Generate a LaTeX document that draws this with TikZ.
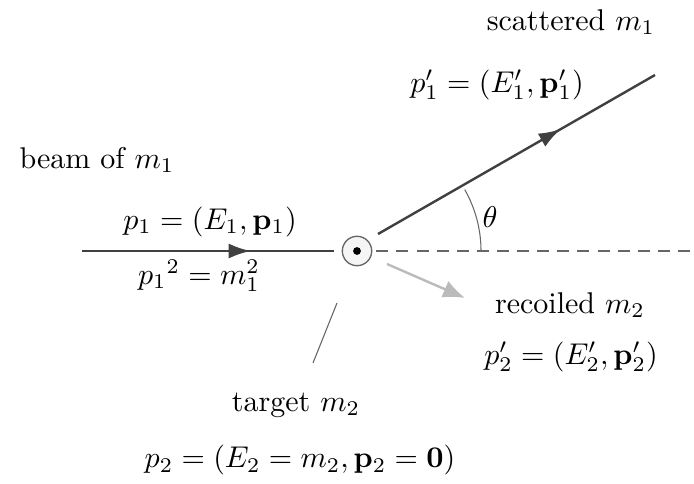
\documentclass[tikz,border=0pt]{standalone}
\usepackage{amsmath}
\usepackage{xcolor}
\usetikzlibrary{arrows.meta, calc, decorations.markings}
\definecolor{linegray}{HTML}{404040}
\definecolor{dashgray}{HTML}{666666}
\definecolor{recoilgray}{HTML}{BBBBBB}
\tikzset{
  particle/.style={line width=0.8pt, color=linegray, postaction={decorate},
    decoration={markings, mark=at position #1 with {\arrow{Latex[length=7.3pt, width=5pt]}}}},
  recoil/.style={-{Latex[length=7.3pt, width=6pt]}, line width=0.8pt, color=recoilgray},
  axis/.style={line width=0.6pt, color=dashgray, dash pattern=on 4pt off 2.7pt},
  leader/.style={line width=0.35pt, color=dashgray},
  target/.style={circle, draw=dashgray, fill=gray!8, line width=0.45pt, minimum size=9.8pt, inner sep=0pt}
}

\begin{document}
\begin{tikzpicture}[x=0.3333pt, y=-0.3333pt]
\useasboundingbox (0,0) rectangle (694,484);

\node[target] (tgt) at (357,251) {};
\fill[black] (tgt.center) circle (1.3pt);

\coordinate (beamstart) at (82,251);
\coordinate (axisend) at (694,251);
\coordinate (scatend) at (655,75);
\coordinate (recoilend) at (465,298);
\coordinate (leadtop) at (337,303);
\coordinate (leadbot) at (313,363);

\draw[particle=0.67] (beamstart) -- ($(tgt.west)+(-8,0)$);
\draw[axis] ($(tgt.east)+(4,0)$) -- (axisend);
\draw[particle=0.66] ($(tgt)+(21,-17)$) -- (scatend);
\draw[recoil] ($(tgt)+(30,13)$) -- (recoilend);
\draw[leader] ($(tgt)+(124,0)$) arc[start angle=0, end angle=29.7, radius=41.3pt];
\draw[leader] (leadtop) -- (leadbot);

\node (theta) at (490,217) {$\theta$};
\node (scatlabel) at (571,22) {scattered $m_1$};
\node (scatmom) at (497,85) {$p'_1 = (E'_1, \mathbf{p}'_1)$};
\node (beamlabel) at (97,160) {beam of $m_1$};
\node (beammom) at (210,222) {$p_1 = (E_1, \mathbf{p}_1)$};
\node (beammass) at (199,276) {${p_1}^2 = m_1^2$};
\node (recoillabel) at (570,305) {recoiled $m_2$};
\node (recoilmom) at (571,357) {$p'_2 = (E'_2, \mathbf{p}'_2)$};
\node (tgtlabel) at (296,405) {target $m_2$};
\node (tgtmom) at (300,460) {$p_2 = (E_2 = m_2, \mathbf{p}_2 = \mathbf{0})$};
\end{tikzpicture}
\end{document}
